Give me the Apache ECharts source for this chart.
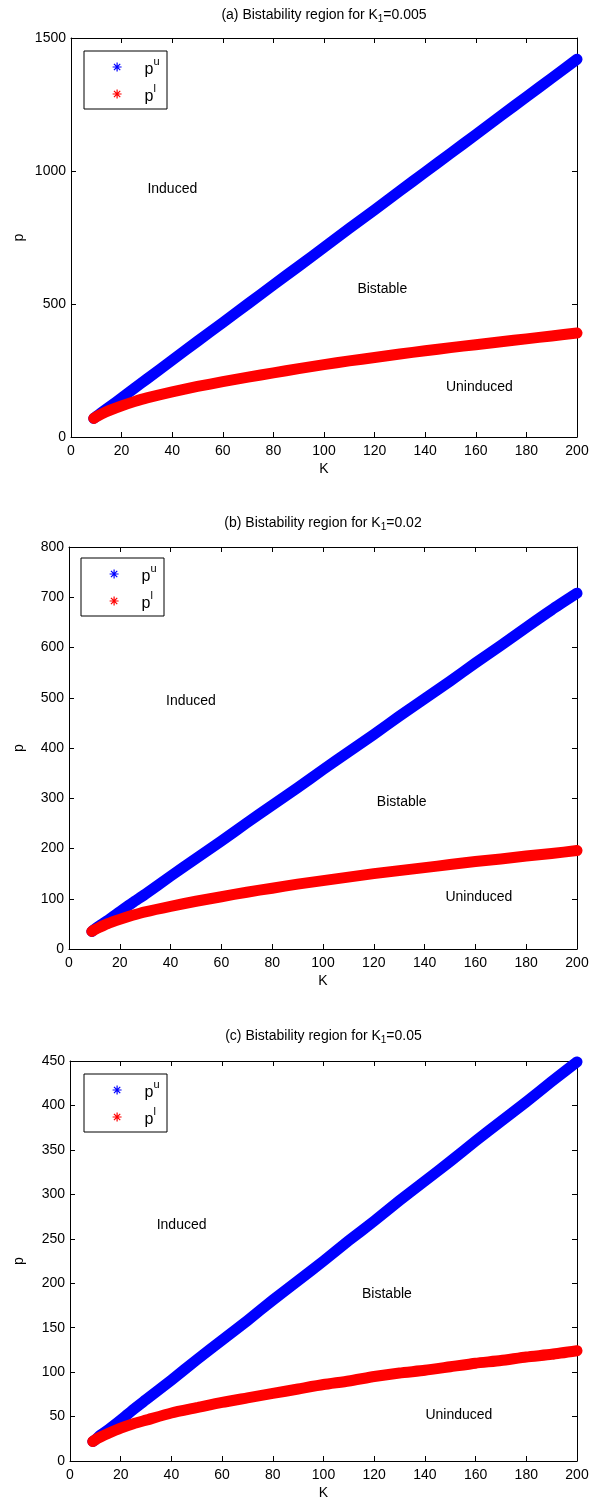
<!DOCTYPE html>
<html>
<head>
<meta charset="utf-8">
<script src="https://cdn.jsdelivr.net/npm/echarts@6/dist/echarts.min.js"></script>
<style>
  html, body { margin: 0; padding: 0; background: #fff; }
  #chart { width: 593px; height: 1501px; }
</style>
</head>
<body>
<div id="chart"></div>
<script>
// Bistability boundaries p^u (upper) and p^l (lower) versus K for three K1 values
const K = [9, 10, 12, 15, 20, 25, 30, 40, 50, 60, 70, 80, 90, 100, 110, 120, 130, 140, 150, 160, 170, 180, 190, 200];

// (a) K1 = 0.005
const puA = [70, 77, 91, 112, 147, 183, 218, 289, 360, 430, 501, 572, 642, 713, 784, 854, 925, 996, 1066, 1137, 1208, 1279, 1349, 1420];
const plA = [70, 76, 86, 99, 117, 133, 147, 170, 190, 208, 225, 241, 257, 272, 286, 299, 312, 324, 336, 347, 358, 369, 380, 391];
// (b) K1 = 0.02
const puB = [35, 39, 46, 56, 74, 92, 109, 145, 180, 215, 251, 286, 321, 357, 392, 427, 463, 498, 533, 569, 604, 640, 675, 708];
const plB = [35, 38, 43, 50, 59, 67, 74, 85, 95, 104, 113, 121, 129, 136, 143, 150, 156, 162, 168, 174, 179, 185, 190, 196];
// (c) K1 = 0.05
const puC = [22, 24, 29, 35, 46, 58, 69, 91, 114, 136, 158, 181, 203, 225, 248, 270, 293, 315, 337, 360, 382, 404, 427, 449];
const plC = [22, 24, 27, 31, 37, 42, 46, 54, 60, 66, 71, 76, 81, 86, 90, 95, 99, 102, 106, 110, 113, 117, 120, 124];

const titles = [
  ['(a) Bistability region for K', '1', '=0.005'],
  ['(b) Bistability region for K', '1', '=0.02'],
  ['(c) Bistability region for K', '1', '=0.05']
];
const yMax = [1500, 800, 450];
const yStep = [500, 100, 50];
const xTicks = { min: 0, max: 200, step: 20 };

// region labels: [K, p, text]
const regionsA = [[30, 930, 'Induced'], [113, 555, 'Bistable'], [148, 188, 'Uninduced']];
const regionsB = [[38, 493, 'Induced'], [121, 292, 'Bistable'], [148, 103, 'Uninduced']];
const regionsC = [[34, 265, 'Induced'], [115, 188, 'Bistable'], [140, 52, 'Uninduced']];

const FONT = '"Liberation Sans", Arial, Helvetica, sans-serif';
const BLUE = '#0000ff';
const RED = '#ff0000';
const STAR = 'path://M5,0 L5,10 M0,5 L10,5 M1.5,1.5 L8.5,8.5 M1.5,8.5 L8.5,1.5';

const panels = [
  { pu: puA, pl: plA, regions: regionsA, grid: { left: 71, top: 38, width: 506, height: 399 }, titleY: 15, legend: { x: 84, y: 51 }, pGap: 45 },
  { pu: puB, pl: plB, regions: regionsB, grid: { left: 69, top: 547, width: 508, height: 402 }, titleY: 523, legend: { x: 81, y: 558 }, pGap: 43 },
  { pu: puC, pl: plC, regions: regionsC, grid: { left: 70, top: 1061, width: 507, height: 400 }, titleY: 1036, legend: { x: 84, y: 1074 }, pGap: 44 }
];

const axisLine = { show: true, onZero: false, lineStyle: { color: '#000', width: 1 } };
const axisTick = { show: true, inside: true, length: 5, lineStyle: { color: '#000', width: 1 } };
const labelStyle = { color: '#000', fontSize: 14, fontFamily: FONT };

const option = {
  backgroundColor: '#fff',
  animation: false,
  grid: [], xAxis: [], yAxis: [], series: [], legend: [], graphic: []
};

panels.forEach((pn, i) => {
  option.grid.push(Object.assign({ containLabel: false }, pn.grid));
  // bottom and top x axes
  option.xAxis.push({
    type: 'value', gridIndex: i, position: 'bottom', min: xTicks.min, max: xTicks.max, interval: xTicks.step,
    name: 'K', nameLocation: 'middle', nameGap: 25, nameTextStyle: labelStyle,
    axisLine, axisTick, axisLabel: Object.assign({ margin: 7, formatter: v => String(v) }, labelStyle), splitLine: { show: false }
  });
  option.xAxis.push({
    type: 'value', gridIndex: i, position: 'top', min: xTicks.min, max: xTicks.max, interval: xTicks.step,
    axisLine, axisTick, axisLabel: { show: false }, splitLine: { show: false }
  });
  // left and right y axes
  option.yAxis.push({
    type: 'value', gridIndex: i, position: 'left', min: 0, max: yMax[i], interval: yStep[i],
    name: 'p', nameLocation: 'middle', nameGap: pn.pGap, nameMoveOverlap: false, nameTextStyle: labelStyle,
    axisLine, axisTick, axisLabel: Object.assign({ margin: 5, formatter: v => String(v) }, labelStyle), splitLine: { show: false }
  });
  option.yAxis.push({
    type: 'value', gridIndex: i, position: 'right', min: 0, max: yMax[i], interval: yStep[i],
    axisLine, axisTick, axisLabel: { show: false }, splitLine: { show: false }
  });

  const band = (name, vals, color) => ({
    name, type: 'line', xAxisIndex: 2 * i, yAxisIndex: 2 * i,
    data: K.map((k, j) => [k, vals[j]]),
    symbol: 'none', clip: false, silent: true, smooth: 0.2,
    lineStyle: { color, width: 11, cap: 'round', join: 'round' },
    itemStyle: { color }
  });
  option.series.push(band('pu', pn.pu, BLUE));
  option.series.push(band('pl', pn.pl, RED));
  option.series.push({
    type: 'scatter', xAxisIndex: 2 * i, yAxisIndex: 2 * i, silent: true,
    symbolSize: 1, itemStyle: { color: 'rgba(255,255,255,0)' },
    data: pn.regions.map(r => ({ value: [r[0], r[1]], name: r[2] })),
    label: {
      show: true, position: 'right', distance: 0, formatter: '{b}',
      color: '#000', opacity: 1, textBorderWidth: 0, fontSize: 14, fontFamily: FONT
    }
  });

  // legend frame
  option.graphic.push({
    type: 'rect', shape: { x: pn.legend.x, y: pn.legend.y, width: 83, height: 58 },
    style: { fill: '#fff', stroke: '#000', lineWidth: 1 }, z: 5
  });
  option.legend.push({
    orient: 'vertical', left: pn.legend.x + 28, top: pn.legend.y + 5, padding: 0, z: 10,
    itemWidth: 9, itemHeight: 9, itemGap: 5, selectedMode: false,
    data: [
      { name: 'pu', icon: STAR, itemStyle: { color: BLUE, borderColor: BLUE, borderWidth: 1.2 } },
      { name: 'pl', icon: STAR, itemStyle: { color: RED, borderColor: RED, borderWidth: 1.2 } }
    ],
    formatter: n => n === 'pu' ? '{b|p}{s|u}' : '{b|p}{s|l}',
    textStyle: {
      padding: [0, 0, 0, 18],
      rich: {
        b: { fontSize: 16, fontFamily: FONT, color: '#000', lineHeight: 22, verticalAlign: 'bottom' },
        s: { fontSize: 11, fontFamily: FONT, color: '#000', lineHeight: 22, verticalAlign: 'top' }
      }
    }
  });

  // panel title with subscript
  option.graphic.push({
    type: 'text', x: pn.grid.left + pn.grid.width / 2, y: pn.titleY, z: 10,
    style: {
      text: '{t|' + titles[i][0] + '}{s|' + titles[i][1] + '}{t|' + titles[i][2] + '}',
      align: 'center', verticalAlign: 'middle',
      rich: {
        t: { fontSize: 14, fontFamily: FONT, fill: '#000', lineHeight: 18, verticalAlign: 'middle' },
        s: { fontSize: 10, fontFamily: FONT, fill: '#000', lineHeight: 18, verticalAlign: 'bottom' }
      }
    }
  });
});

const chart = echarts.init(document.getElementById('chart'), null, { renderer: 'canvas' });
chart.setOption(option);
</script>
</body>
</html>
